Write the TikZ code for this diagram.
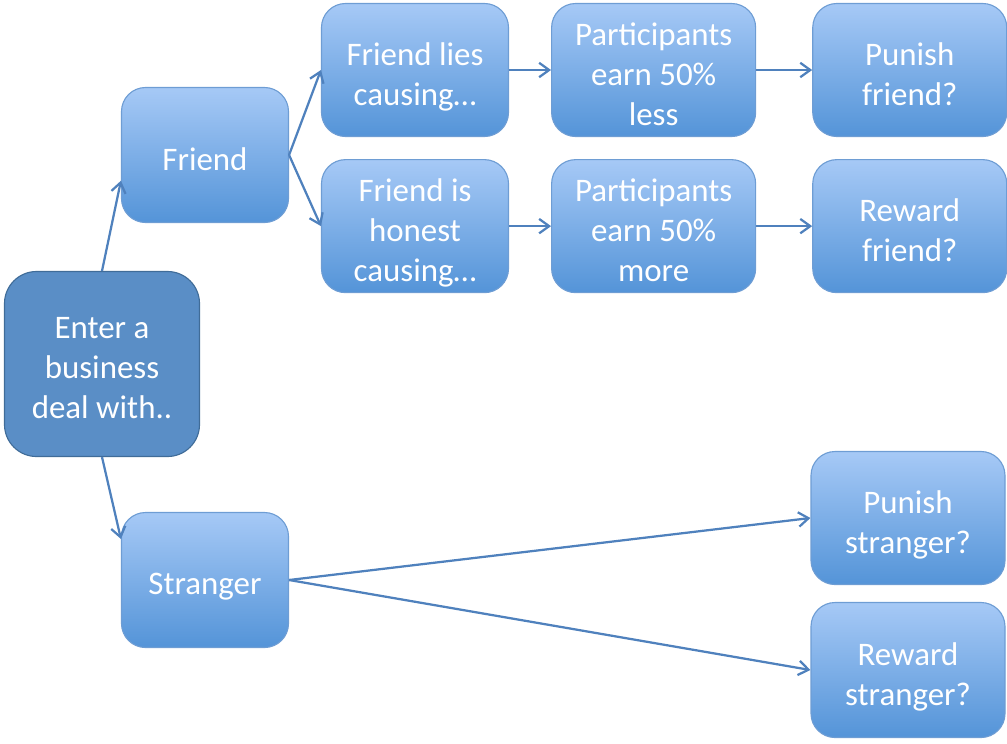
\documentclass[tikz,border=0pt]{standalone}
\usepackage{fontspec}
\setmainfont{Carlito}
\usepackage{tikz}
\usetikzlibrary{arrows.meta, positioning}

\definecolor{boxtop}{RGB}{166,201,246}
\definecolor{boxbot}{RGB}{84,148,216}
\definecolor{boxline}{RGB}{110,157,212}
\definecolor{rootfill}{RGB}{90,142,198}
\definecolor{rootline}{RGB}{64,108,152}
\definecolor{linkblue}{RGB}{79,129,189}

\tikzset{
  stepnode/.style={rectangle, rounded corners=0.6cm, draw=boxline, line width=0.8pt,
    top color=boxtop, bottom color=boxbot, text=white, align=center,
    minimum height=3.325cm, font=\fontsize{23.4}{28.5}\selectfont, text depth=0pt,
    execute at begin node={\lower5.8pt\hbox\bgroup}, execute at end node={\egroup}},
  rootnode/.style={stepnode, rounded corners=0.8cm, fill=rootfill, top color=rootfill,
    bottom color=rootfill, draw=rootline, minimum width=4.875cm, minimum height=4.625cm}
}

\begin{document}
\begin{tikzpicture}[->,>={Straight Barb[length=2.5mm,width=3.6mm]},
  every path/.append style={line width=1.6pt},
  link/.style={draw=linkblue}]

\useasboundingbox (0,0) rectangle (25.175,-18.575);

\node[rootnode] (deal) at (2.55,-9.1) {Enter a\\business\\deal with..};
\node[stepnode, minimum width=4.175cm, minimum height=3.375cm] (friend) at (5.125,-3.875) {Friend};
\node[stepnode, minimum width=4.175cm, minimum height=3.375cm] (stranger) at (5.125,-14.5) {Stranger};

% friend branch
\node[stepnode, minimum width=4.675cm] (lies) at (10.375,-1.75) {Friend lies\\causing\dots};
\node[stepnode, minimum width=4.675cm] (honest) [below=0.55cm of lies] {Friend is\\honest\\causing\dots};
\node[stepnode, minimum width=5.1cm] (less) [right=1.05cm of lies] {Participants\\earn 50\%\\less};
\node[stepnode, minimum width=5.1cm] (more) [right=1.05cm of honest] {Participants\\earn 50\%\\more};
\node[stepnode, minimum width=4.85cm] (punishf) [right=1.4cm of less] {Punish\\friend?};
\node[stepnode, minimum width=4.85cm] (rewardf) [right=1.4cm of more] {Reward\\friend?};

% stranger branch
\node[stepnode, minimum width=4.85cm] (punishs) at (22.7,-12.95) {Punish\\stranger?};
\node[stepnode, minimum width=4.85cm, minimum height=3.375cm] (rewards) at (22.7,-16.75) {Reward\\stranger?};

% From the deal to both partners
\draw[link] (deal.north) -- (friend.197);
\draw[link] (deal.south) -- (stranger.154);
% Friend outcomes
\draw[link] (friend.east) -- (lies.west);
\draw[link] (friend.east) -- (honest.west);
\draw[link] (lies) -- (less);
\draw[link] (less) -- (punishf);
\draw[link] (honest) -- (more);
\draw[link] (more) -- (rewardf);
% Stranger outcomes
\draw[link] (stranger.east) -- (punishs.west);
\draw[link] (stranger.east) -- (rewards.west);
\end{tikzpicture}
\end{document}
